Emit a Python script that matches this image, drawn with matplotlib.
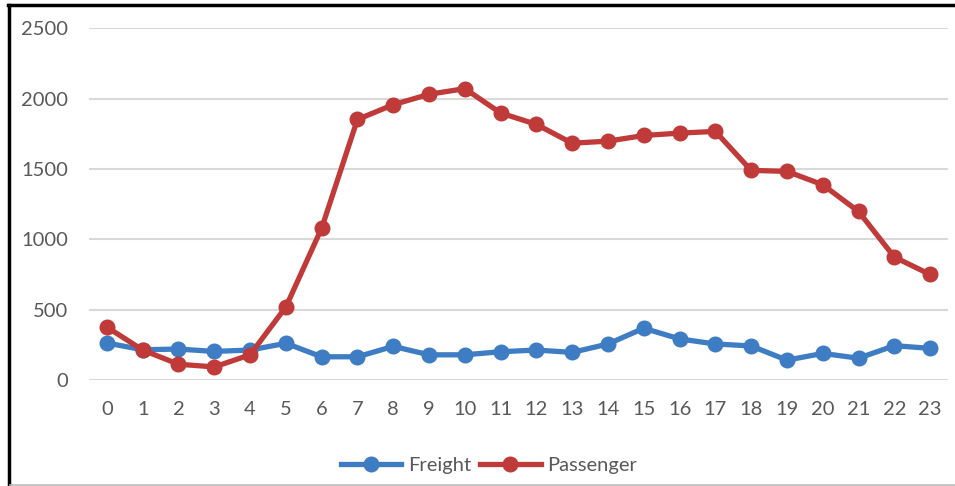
import matplotlib
matplotlib.use("Agg")
import matplotlib.pyplot as plt
from matplotlib.lines import Line2D

hours = list(range(24))
freight = [263, 215, 220, 203, 213, 261, 165, 165, 239, 179, 179, 201,
           213, 196, 256, 368, 292, 256, 242, 141, 189, 155, 244, 225]
passenger = [376, 213, 112, 93, 179, 519, 1079, 1852, 1957, 2031, 2071, 1898,
             1817, 1683, 1698, 1738, 1755, 1767, 1490, 1483, 1388, 1198, 874, 750]
y_ticks = [0, 500, 1000, 1500, 2000, 2500]

blue = "#3E7CC3"
red = "#BF3A38"
text_grey = "#595959"

plt.rcParams["font.family"] = ["Lato", "DejaVu Sans"]

fig = plt.figure(figsize=(9.55, 4.86), dpi=100)
ax = fig.add_axes([89 / 955, 1 - 380 / 486, (948 - 89) / 955, (380 - 28.3) / 486])

line_kw = dict(linewidth=3.8, marker="o", markersize=10.5, solid_capstyle="round",
               solid_joinstyle="round")
ax.plot(hours, freight, color=blue, label="Freight", zorder=3, **line_kw)
ax.plot(hours, passenger, color=red, label="Passenger", zorder=4, **line_kw)

ax.set_xlim(-0.5, 23.5)
ax.set_ylim(0, 2500)
ax.set_xticks(hours)
ax.set_xticklabels([str(h) for h in hours])
ax.set_yticks(y_ticks)
ax.set_yticklabels([str(v) for v in y_ticks])
ax.tick_params(axis="both", length=0, labelsize=14.5, colors=text_grey)
ax.tick_params(axis="x", pad=15)
ax.tick_params(axis="y", pad=15)
ax.grid(axis="y", color="#D9D9D9", linewidth=1.5)
ax.set_axisbelow(True)
for s in ax.spines.values():
    s.set_visible(False)

handles = [Line2D([], [], color=blue, linewidth=3.8, marker="o", markersize=10.5),
           Line2D([], [], color=red, linewidth=3.8, marker="o", markersize=10.5)]
leg = fig.legend(handles, ["Freight", "Passenger"], loc="center",
                 bbox_to_anchor=(489 / 955, 1 - 465 / 486), ncol=2, frameon=False,
                 fontsize=14.5, handlelength=3.0, handletextpad=0.35,
                 columnspacing=0.45, borderaxespad=0)
for t in leg.get_texts():
    t.set_color(text_grey)

# frame around the chart
fig.add_artist(Line2D([8 / 955, 1], [1 - 5 / 486, 1 - 5 / 486], color="black",
                      linewidth=2.5, transform=fig.transFigure))
fig.add_artist(Line2D([9 / 955, 9 / 955], [1 - 5 / 486, 0], color="black",
                      linewidth=2.5, transform=fig.transFigure))
fig.add_artist(Line2D([10 / 955, 1], [1 - 485 / 486, 1 - 485 / 486], color="#BBBBBB",
                      linewidth=1.2, transform=fig.transFigure))

fig.savefig("out.png", dpi=100)
